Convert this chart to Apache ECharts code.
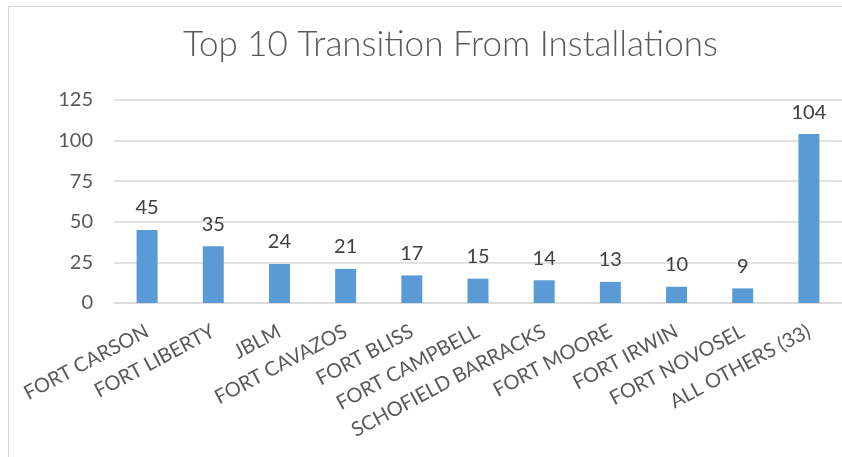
<!DOCTYPE html>
<html>
<head>
<meta charset="utf-8">
<script src="https://cdn.jsdelivr.net/npm/echarts@6/dist/echarts.min.js"></script>
<style>
  html, body { margin: 0; padding: 0; background: #fff; }
  #main { position: absolute; left: 0; top: 0; width: 842px; height: 457px; }
  .frame {
    position: absolute; left: 8px; top: 6px; width: 900px; height: 500px;
    border-left: 1px solid #d9d9d9; border-top: 1px solid #d9d9d9;
    pointer-events: none;
  }
</style>
</head>
<body>
<div class="frame"></div>
<div id="main"></div>
<script>
// 数据
const installations = [
  'FORT CARSON', 'FORT LIBERTY', 'JBLM', 'FORT CAVAZOS', 'FORT BLISS',
  'FORT CAMPBELL', 'SCHOFIELD BARRACKS', 'FORT MOORE', 'FORT IRWIN',
  'FORT NOVOSEL', 'ALL OTHERS (33)'
]
const transitions = [45, 35, 24, 21, 17, 15, 14, 13, 10, 9, 104]
const yTicks = [0, 25, 50, 75, 100, 125]

const chart = echarts.init(document.getElementById('main'))

const option = {
  animation: false,
  title: {
    text: 'Top 10 Transition From Installations',
    left: 178,
    top: 22,
    textStyle: {
      fontFamily: 'Lato',
      fontWeight: 300,
      fontSize: 35,
      color: '#595959'
    }
  },
  grid: {
    left: 114,
    right: -4,
    top: 100,
    bottom: 154
  },
  xAxis: {
    type: 'category',
    data: installations,
    axisTick: { show: false },
    axisLine: { lineStyle: { color: '#d9d9d9', width: 1.5 } },
    axisLabel: {
      interval: 0,
      rotate: 28,
      margin: 27,
      fontFamily: 'Lato',
      fontSize: 20,
      color: '#595959'
    }
  },
  yAxis: {
    type: 'value',
    min: yTicks[0],
    max: yTicks[yTicks.length - 1],
    interval: 25,
    axisLine: { show: false },
    axisTick: { show: false },
    axisLabel: {
      margin: 21,
      fontFamily: 'Lato',
      fontSize: 20,
      color: '#595959'
    },
    splitLine: { lineStyle: { color: '#d9d9d9', width: 1.5 } }
  },
  series: [
    {
      name: 'Transitions',
      type: 'bar',
      data: transitions,
      barWidth: 21,
      itemStyle: { color: '#5b9bd5' },
      label: {
        show: true,
        position: 'top',
        distance: 12,
        fontFamily: 'Lato',
        fontSize: 20,
        color: '#404040'
      }
    }
  ]
}

chart.setOption(option)
</script>
</body>
</html>
